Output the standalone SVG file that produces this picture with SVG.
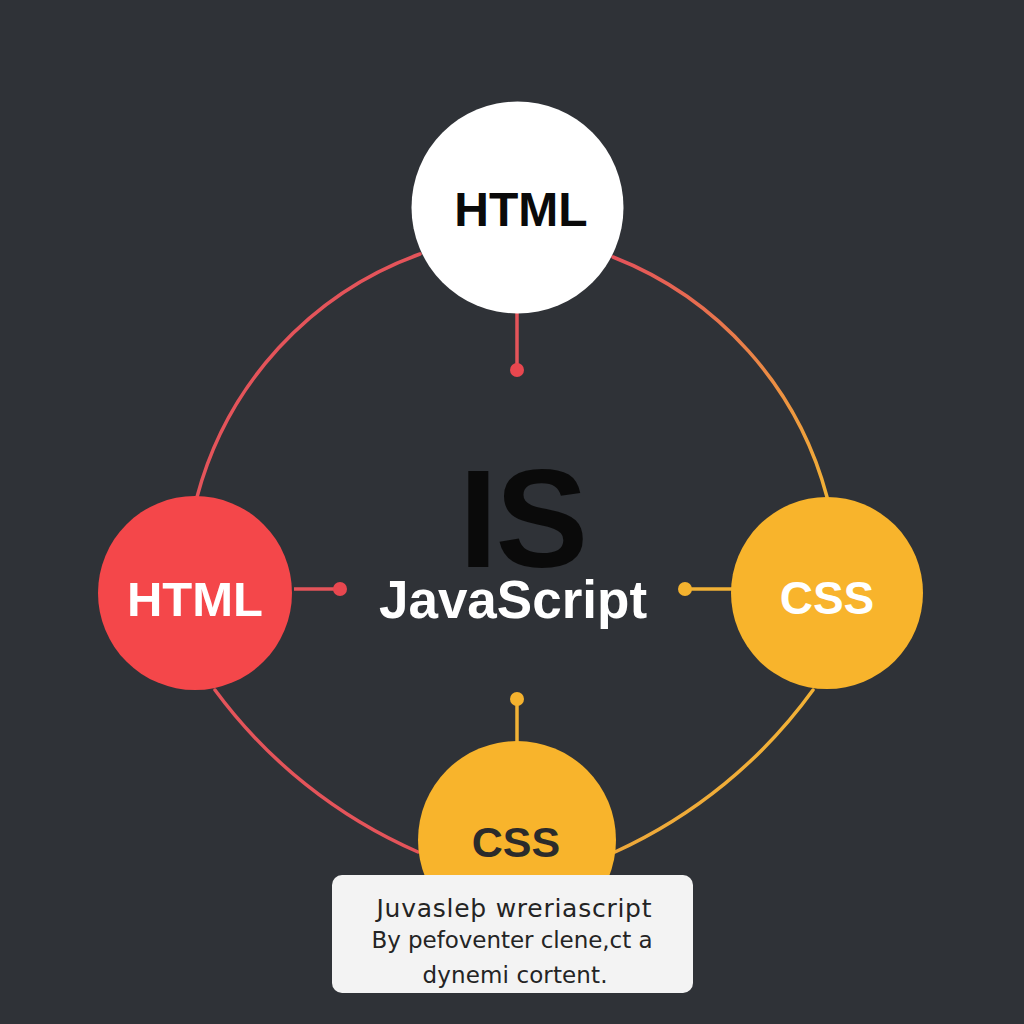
<svg xmlns="http://www.w3.org/2000/svg" width="1024" height="1024" viewBox="0 0 1024 1024">
  <defs>
    <linearGradient id="gTR" gradientUnits="userSpaceOnUse" x1="613" y1="257" x2="827" y2="497">
      <stop offset="0" stop-color="#e4525a"/>
      <stop offset="0.5" stop-color="#ea8248"/>
      <stop offset="1" stop-color="#f2b236"/>
    </linearGradient>
    <linearGradient id="gBR" gradientUnits="userSpaceOnUse" x1="615" y1="852" x2="813" y2="690">
      <stop offset="0" stop-color="#eea83a"/>
      <stop offset="1" stop-color="#f2b236"/>
    </linearGradient>
  </defs>
  <style>
    .ring { fill: none; stroke-width: 3.5; stroke-linecap: round; }
    .stub { stroke-width: 3.5; }
    .red { stroke: #e4545a; }
    .yel { stroke: #f2b236; }
    .dotr { fill: #e8474f; }
    .doty { fill: #f4b22e; }
    .lbl { font-family: "Liberation Sans", Arial, sans-serif; font-weight: 700; text-anchor: middle; }
    .box { font-family: "DejaVu Sans", "Liberation Sans", sans-serif; fill: #242424; text-anchor: middle; }
  </style>
  <rect width="1024" height="1024" fill="#2f3237"/>

  <g id="connectors">
    <path class="ring red" d="M 420 254 A 355 355 0 0 0 197 497"/>
    <path class="ring" stroke="url(#gTR)" d="M 613 257 A 355 355 0 0 1 827 497"/>
    <path class="ring red" d="M 215 690 A 500 500 0 0 0 418 852"/>
    <path class="ring" stroke="url(#gBR)" d="M 615 852 A 500 500 0 0 0 813 690"/>
    <line class="stub red" x1="517" y1="312" x2="517" y2="370"/>
    <circle class="dotr" cx="517" cy="370" r="7"/>
    <line class="stub red" x1="294" y1="589" x2="340" y2="589"/>
    <circle class="dotr" cx="340" cy="589" r="7"/>
    <line class="stub yel" x1="685" y1="589" x2="733" y2="589"/>
    <circle class="doty" cx="685" cy="589" r="7"/>
    <line class="stub yel" x1="517" y1="699" x2="517" y2="744"/>
    <circle class="doty" cx="517" cy="699" r="7"/>
  </g>

  <g id="center">
    <text x="459" y="567" font-family="Liberation Sans, Arial, sans-serif" font-weight="700" font-size="139" letter-spacing="-2" fill="#0a0a0a">IS</text>
    <text class="lbl" x="513" y="618" font-size="53" fill="#ffffff">JavaScript</text>
  </g>

  <g id="node-html-top">
    <circle cx="517.5" cy="207.5" r="106" fill="#ffffff"/>
    <text class="lbl" x="521" y="226" font-size="48" fill="#0a0a0a">HTML</text>
  </g>

  <g id="node-html-left">
    <circle cx="195" cy="593" r="97" fill="#f4474a"/>
    <text class="lbl" x="195" y="616" font-size="49" fill="#ffffff">HTML</text>
  </g>

  <g id="node-css-right">
    <circle cx="827" cy="593" r="96" fill="#f8b42c"/>
    <text class="lbl" x="827" y="614" font-size="46" fill="#ffffff">CSS</text>
  </g>

  <g id="node-css-bottom">
    <circle cx="517" cy="840" r="99" fill="#f8b42c"/>
    <text class="lbl" x="516" y="857" font-size="43" fill="#2b2b2b">CSS</text>
  </g>

  <g id="note">
    <rect x="332" y="875" width="361" height="118" rx="10" fill="#f3f3f3"/>
    <text class="box" x="514" y="917" font-size="25" textLength="275">Juvasleþ wreriascript</text>
    <text class="box" x="512" y="948" font-size="23" textLength="281">By pefoventer clene,ct a</text>
    <text class="box" x="515" y="983" font-size="23" textLength="185">dynemi cortent.</text>
  </g>
</svg>
